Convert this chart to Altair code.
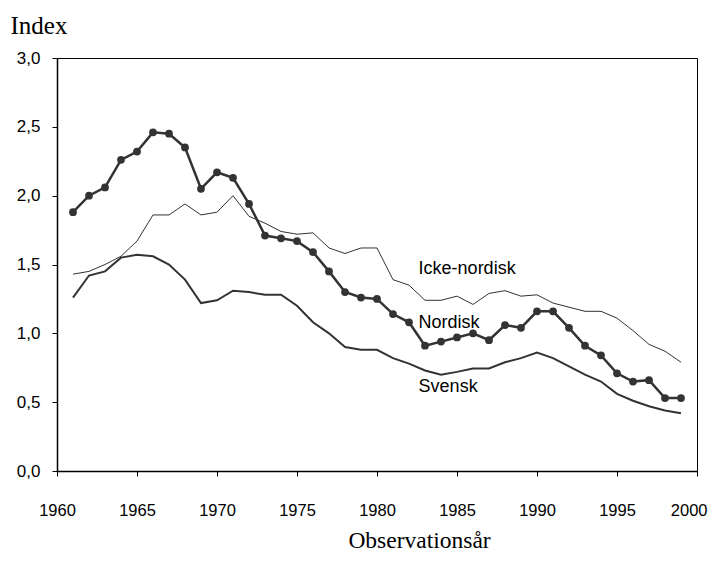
import altair as alt
import pandas as pd

years = list(range(1961, 2000))
nordisk = [1.88, 2.00, 2.06, 2.26, 2.32, 2.46, 2.45, 2.35, 2.05, 2.17,
           2.13, 1.94, 1.71, 1.69, 1.67, 1.59, 1.45, 1.30, 1.26, 1.25,
           1.14, 1.08, 0.91, 0.94, 0.97, 1.00, 0.95, 1.06, 1.04, 1.16,
           1.16, 1.04, 0.91, 0.84, 0.71, 0.65, 0.66, 0.53, 0.53]
icke_nordisk = [1.43, 1.45, 1.50, 1.56, 1.67, 1.86, 1.86, 1.94, 1.86, 1.88,
                2.00, 1.85, 1.80, 1.74, 1.72, 1.73, 1.62, 1.58, 1.62, 1.62,
                1.39, 1.35, 1.24, 1.24, 1.27, 1.21, 1.29, 1.31, 1.27, 1.28,
                1.22, 1.19, 1.16, 1.16, 1.11, 1.02, 0.92, 0.87, 0.79]
svensk = [1.26, 1.42, 1.45, 1.55, 1.57, 1.56, 1.50, 1.39, 1.22, 1.24,
          1.31, 1.30, 1.28, 1.28, 1.20, 1.08, 1.00, 0.90, 0.88, 0.88,
          0.82, 0.78, 0.73, 0.70, 0.72, 0.745, 0.745, 0.79, 0.82, 0.86,
          0.82, 0.76, 0.70, 0.65, 0.56, 0.51, 0.47, 0.44, 0.42]

label_names = ["Icke-nordisk", "Nordisk", "Svensk"]
label_x = [1982.6, 1982.6, 1982.6]
label_y = [1.47, 1.076, 0.61]

df = pd.DataFrame({"year": years, "Nordisk": nordisk,
                   "Icke-nordisk": icke_nordisk, "Svensk": svensk})
lab = pd.DataFrame({"name": label_names, "x": label_x, "y": label_y})

INK = "#333333"
SANS = "'Liberation Sans', Arial, sans-serif"
SERIF = "'Liberation Serif', 'Times New Roman', serif"

xscale = alt.Scale(domain=[1960, 2000], nice=False)
x = alt.X("year:Q", scale=xscale,
          axis=alt.Axis(values=list(range(1960, 2001, 5)), format="d",
                        title="Observationsår", titleFont=SERIF,
                        titleFontSize=23.5, titleFontWeight="normal",
                        titleColor="black", titleX=362, titleY=76,
                        titleAlign="center", titleBaseline="alphabetic",
                        labelFont=SANS, labelFontSize=16.5, labelColor="black",
                        labelFlush=False, labelOverlap=False,
                        labelAlign=alt.condition("datum.value == 2000",
                                                 alt.value("right"),
                                                 alt.value("center")),
                        labelOffset=alt.condition("datum.value == 2000",
                                                  alt.value(10),
                                                  alt.value(0)),
                        labelPadding=26, tickSize=5, tickColor="black",
                        domainColor="black", domainWidth=1.5, grid=False))
yaxis = alt.Axis(values=[0, 0.5, 1.0, 1.5, 2.0, 2.5, 3.0],
                 labelExpr="replace(format(datum.value, '.1f'), '.', ',')",
                 title="Index", titleAngle=0, titleAlign="left",
                 titleBaseline="alphabetic", titleX=-47, titleY=-25,
                 titleFont=SERIF, titleFontSize=25, titleFontWeight="normal",
                 titleColor="black",
                 labelFont=SANS, labelFontSize=17, labelColor="black",
                 labelFlush=False, labelOverlap=False,
                 labelPadding=12, tickSize=5, tickColor="black",
                 domainColor="black", domainWidth=1.5, grid=False)
yscale = alt.Scale(domain=[0, 3.0], nice=False)

base = alt.Chart(df)
icke = base.mark_line(color=INK, strokeWidth=1).encode(
    x=x, y=alt.Y("Icke-nordisk:Q", scale=yscale, axis=yaxis))
sv = base.mark_line(color=INK, strokeWidth=2).encode(
    x=x, y=alt.Y("Svensk:Q", scale=yscale))
nl = base.mark_line(color=INK, strokeWidth=2.5).encode(
    x=x, y=alt.Y("Nordisk:Q", scale=yscale))
npts = base.mark_circle(color=INK, size=60, opacity=1).encode(
    x=x, y=alt.Y("Nordisk:Q", scale=yscale))
labels = alt.Chart(lab).mark_text(align="left", baseline="middle",
                                  font=SANS, fontSize=18, color="black").encode(
    x=alt.X("x:Q", scale=xscale),
    y=alt.Y("y:Q", scale=yscale), text="name:N")

chart = alt.layer(icke, sv, nl, npts, labels).properties(
    width=640, height=413,
    autosize=alt.AutoSizeParams(type="none"),
    padding={"left": 49, "top": 50, "right": 11, "bottom": 80},
    background="white",
).configure_view(stroke="black", strokeWidth=1)

chart.save("out.html", embed_options={"renderer": "svg", "actions": False})
